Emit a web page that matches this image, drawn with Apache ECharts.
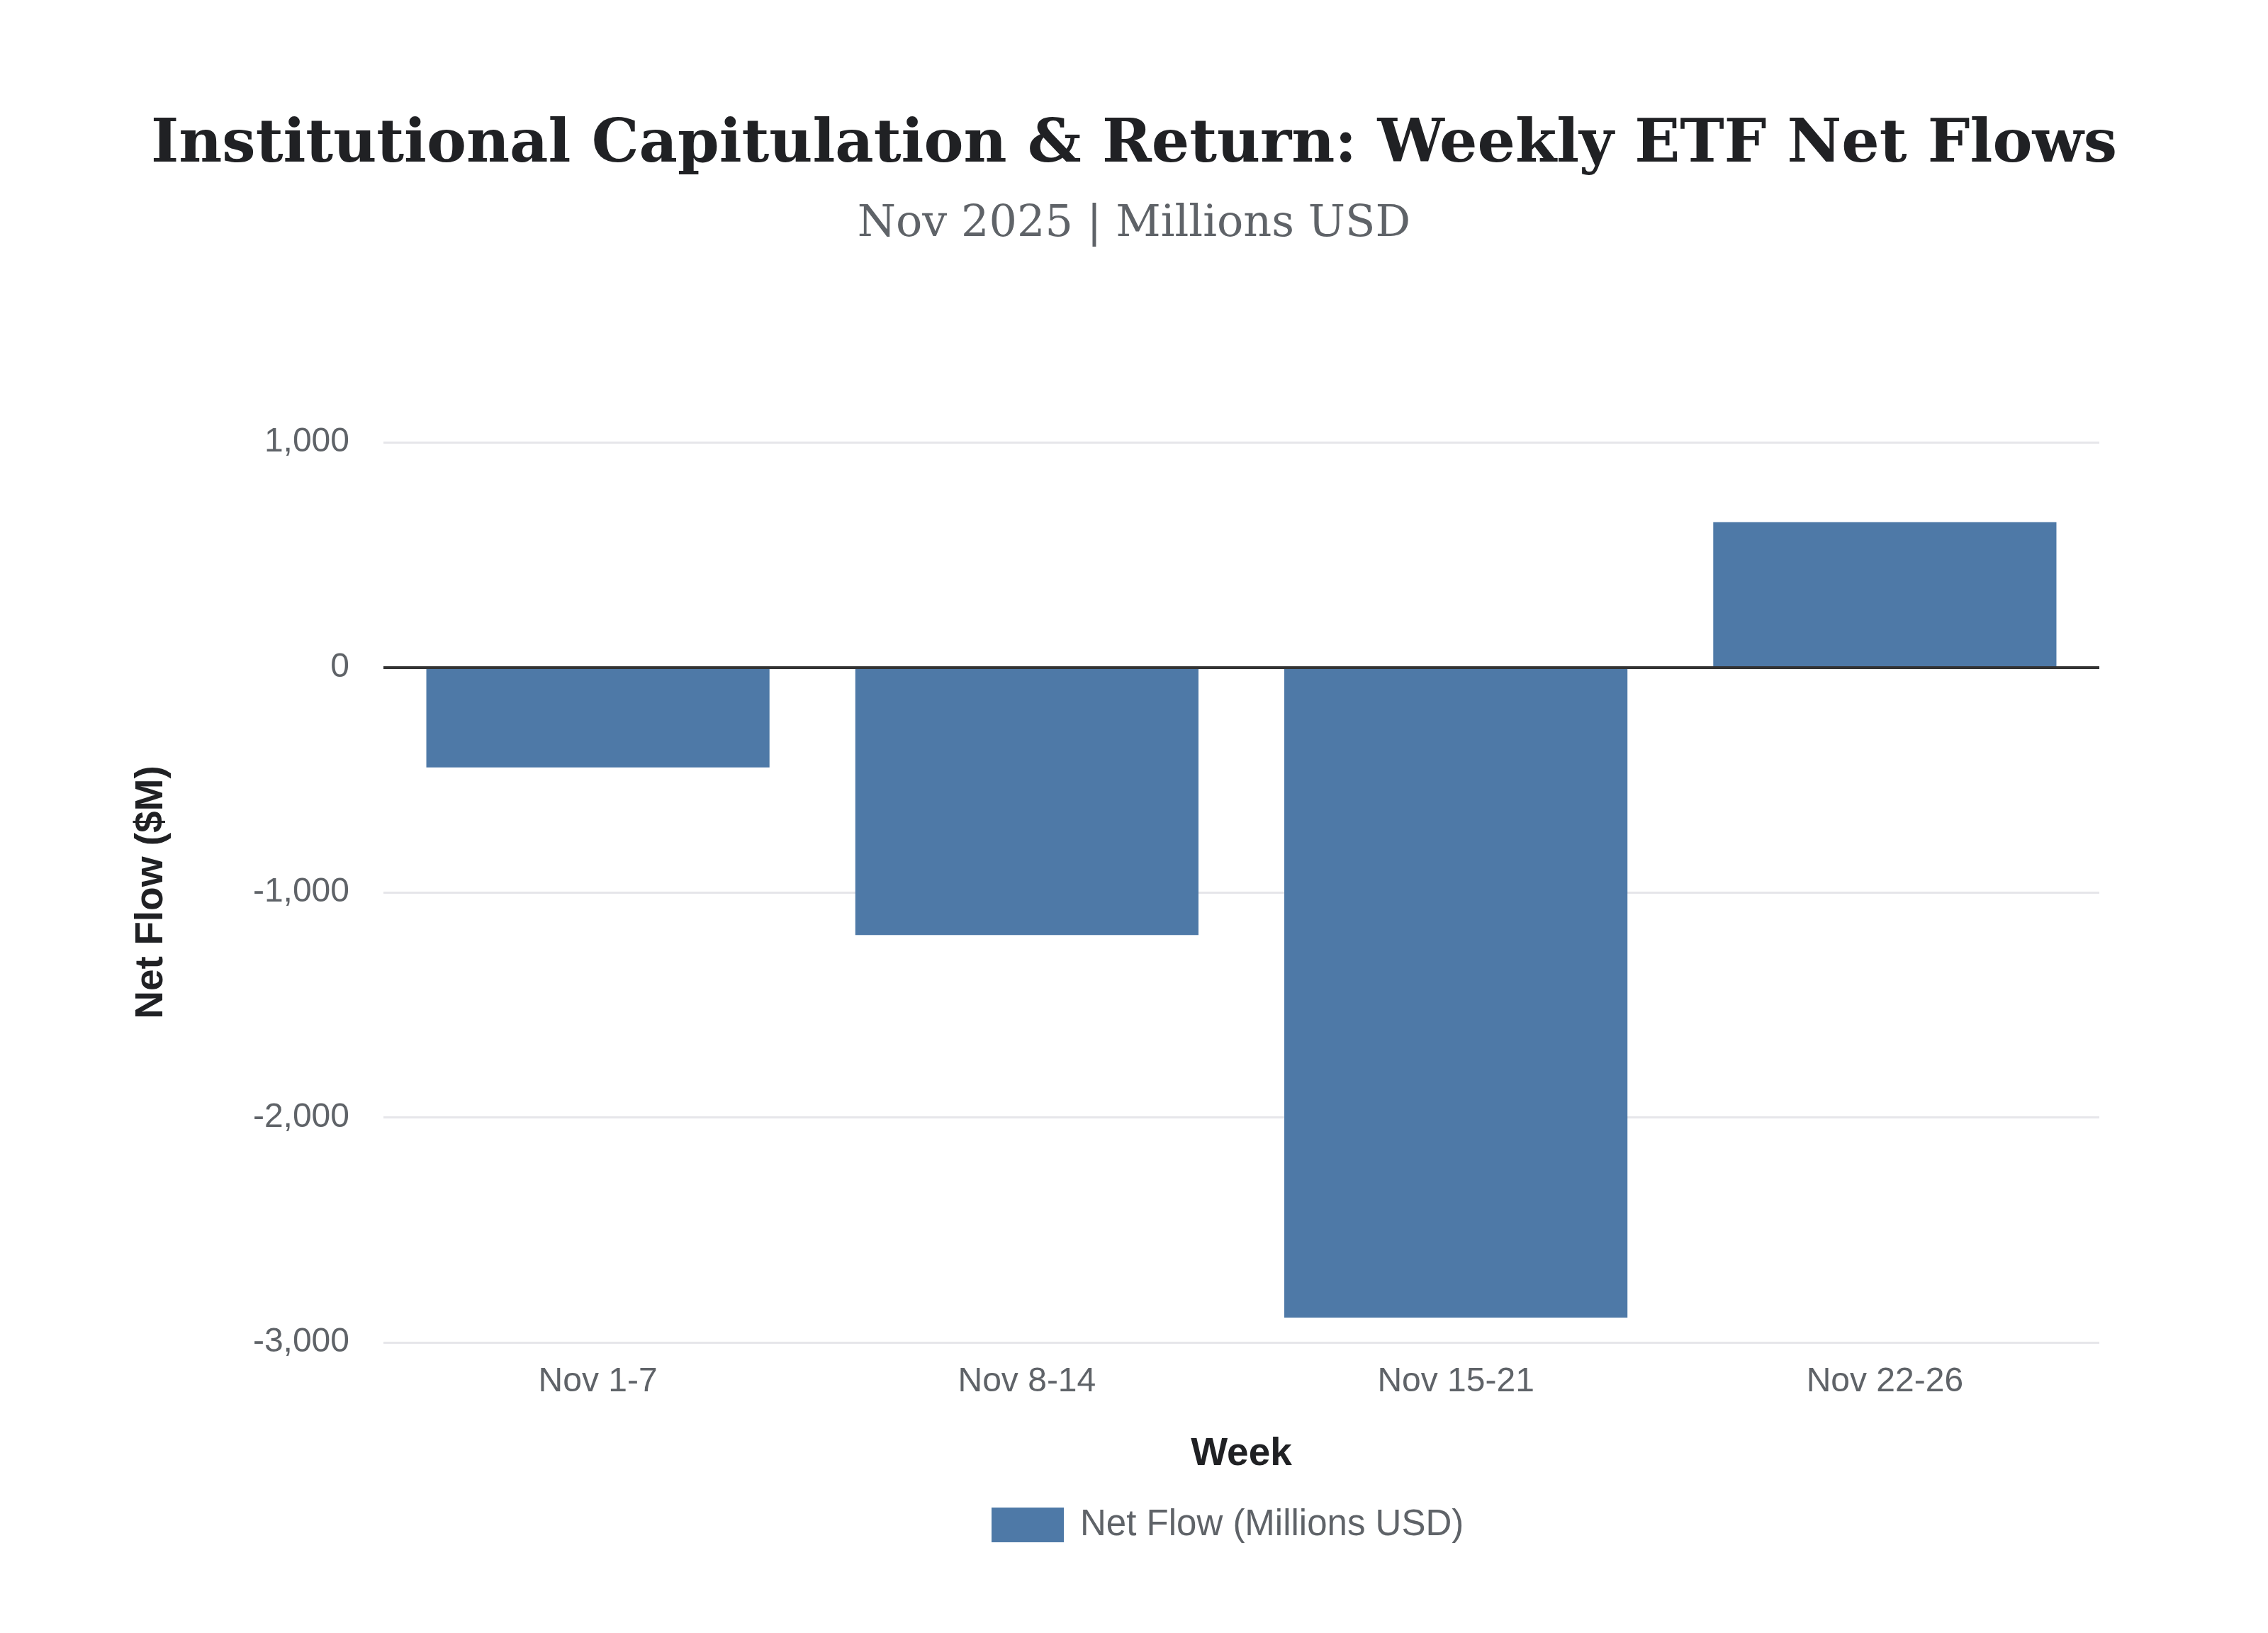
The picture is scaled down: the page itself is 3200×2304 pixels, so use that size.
<!DOCTYPE html>
<html>
<head>
<meta charset="utf-8">
<script src="https://cdn.jsdelivr.net/npm/echarts@6/dist/echarts.min.js"></script>
<style>html,body{margin:0;padding:0;background:#fff}#c{width:3200px;height:2304px}</style>
</head>
<body>
<div id="c"></div>
<script>
const categories = ['Nov 1-7', 'Nov 8-14', 'Nov 15-21', 'Nov 22-26'];
const netFlows = [-445, -1190, -2890, 645];
const yTicks = { min: -3000, max: 1000, interval: 1000 };
const seriesName = 'Net Flow (Millions USD)';
const titleText = 'Institutional Capitulation & Return: Weekly ETF Net Flows';
const subtitleText = 'Nov 2025 | Millions USD';

const chart = echarts.init(document.getElementById('c'));
const sans = 'Liberation Sans, Arial, Helvetica, sans-serif';
chart.setOption({
  backgroundColor: '#ffffff',
  animation: false,
  title: {
    text: titleText,
    subtext: subtitleText,
    left: 'center',
    top: 159,
    itemGap: 38,
    textStyle: { fontFamily: 'DejaVu Serif', fontWeight: 'bold', fontSize: 84, color: '#202124' },
    subtextStyle: { fontFamily: 'DejaVu Serif', fontSize: 62, color: '#5f6368' }
  },
  legend: {
    data: [seriesName],
    bottom: 122,
    left: 1394,
    icon: 'rect',
    itemWidth: 102,
    itemHeight: 49,
    textStyle: { fontFamily: sans, fontSize: 51, color: '#5f6368', padding: [0, 0, 0, 18] }
  },
  grid: { left: 541, right: 238, top: 624, bottom: 410, containLabel: false },
  xAxis: {
    type: 'category',
    data: categories,
    name: 'Week',
    nameLocation: 'middle',
    nameGap: 130,
    nameTextStyle: { fontFamily: sans, fontWeight: 'bold', fontSize: 55, color: '#202124' },
    axisLine: { show: false, onZero: false },
    axisTick: { show: false },
    axisLabel: { fontFamily: sans, fontSize: 48, color: '#5f6368', margin: 32 }
  },
  yAxis: {
    type: 'value',
    min: yTicks.min,
    max: yTicks.max,
    interval: yTicks.interval,
    name: 'Net Flow ($M)',
    nameLocation: 'middle',
    nameGap: 300,
    nameTextStyle: { fontFamily: sans, fontWeight: 'bold', fontSize: 55, color: '#202124' },
    axisLine: { show: false },
    axisTick: { show: false },
    splitLine: { lineStyle: { color: '#e6e6ea', width: 3 } },
    axisLabel: {
      fontFamily: sans, fontSize: 48, color: '#5f6368', margin: 48,
      formatter: v => v.toLocaleString('en-US')
    }
  },
  series: [{
    name: seriesName,
    type: 'bar',
    data: netFlows,
    barCategoryGap: '20%',
    itemStyle: { color: '#4e79a7' },
    markLine: {
      silent: true,
      symbol: ['none', 'none'],
      label: { show: false },
      lineStyle: { color: '#333333', width: 4, type: 'solid' },
      data: [{ yAxis: 0 }]
    }
  }]
});
</script>
</body>
</html>
